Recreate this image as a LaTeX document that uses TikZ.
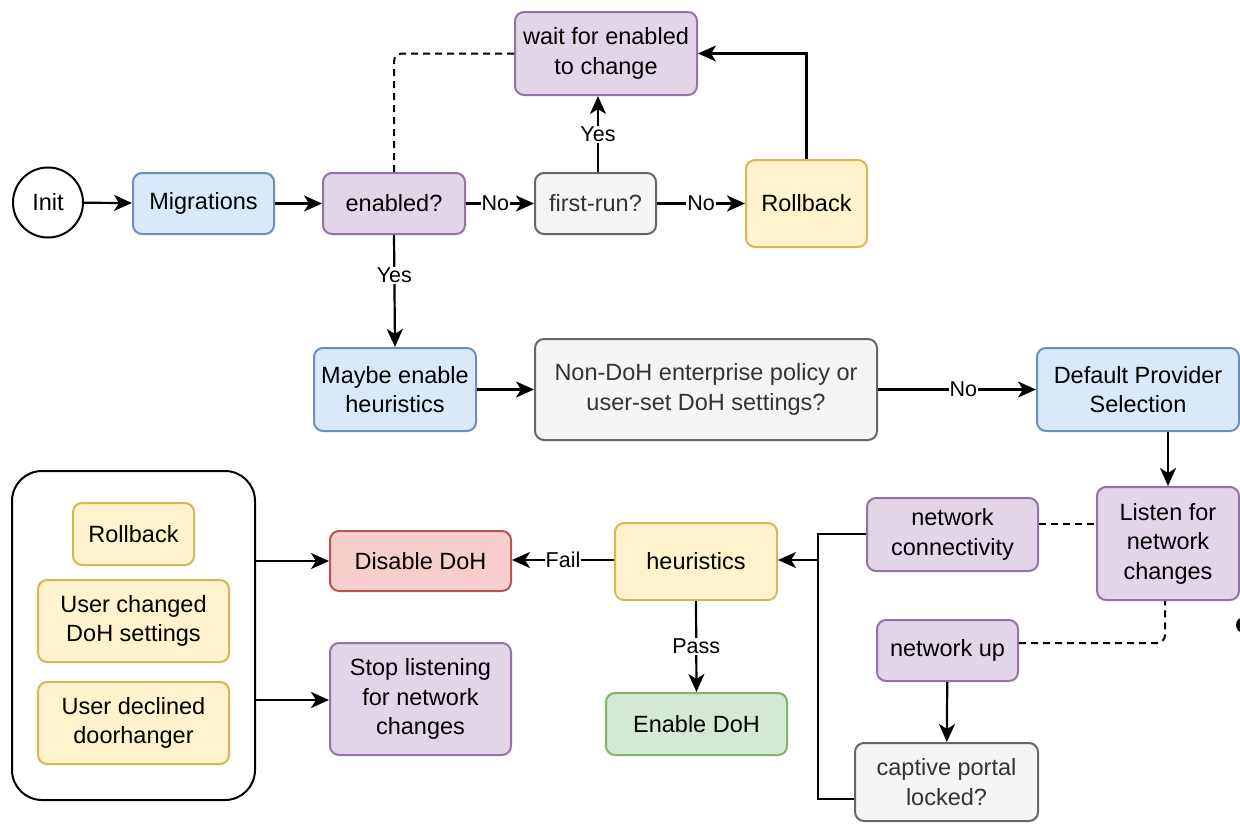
\documentclass[tikz,border=0pt]{standalone}
\usepackage{fontspec}
\setmainfont{Liberation Sans}
\usetikzlibrary{arrows.meta}

\definecolor{blueF}{HTML}{DAE8FC}\definecolor{blueD}{HTML}{6C8EBF}
\definecolor{purpleF}{HTML}{E1D5E7}\definecolor{purpleD}{HTML}{9673A6}
\definecolor{grayF}{HTML}{F5F5F5}\definecolor{grayD}{HTML}{666666}\definecolor{grayT}{HTML}{333333}
\definecolor{yellowF}{HTML}{FFF2CC}\definecolor{yellowD}{HTML}{D6B656}
\definecolor{redF}{HTML}{F8CECC}\definecolor{redD}{HTML}{B85450}
\definecolor{greenF}{HTML}{D5E8D4}\definecolor{greenD}{HTML}{82B366}

\tikzset{
  box/.style={rectangle, rounded corners=9pt, line width=2pt, align=center,
    inner sep=2pt, font=\fontsize{23.5}{29.5}\selectfont},
  bluebox/.style={box, fill=blueF, draw=blueD},
  purplebox/.style={box, fill=purpleF, draw=purpleD},
  graybox/.style={box, fill=grayF, draw=grayD, text=grayT},
  yellowbox/.style={box, fill=yellowF, draw=yellowD},
  redbox/.style={box, fill=redF, draw=redD},
  greenbox/.style={box, fill=greenF, draw=greenD},
  conn/.style={line width=2.2pt, -{Stealth[length=18pt,width=16pt,inset=5pt]}},
  plain/.style={line width=2.2pt},
  dashconn/.style={line width=2pt, dash pattern=on 7pt off 5pt},
  lbl/.style={fill=white, inner sep=1pt, font=\fontsize{21.5}{25}\selectfont}
}

\begin{document}
\begin{tikzpicture}[x=1pt,y=-1pt]
\useasboundingbox (0,0) rectangle (1240,823);

% top row
\node[circle, draw, line width=2pt, minimum size=70pt, inner sep=0pt,
      font=\fontsize{23.5}{29.5}\selectfont] (init) at (48,202.5) {Init};
\node[bluebox, minimum width=141pt, minimum height=61pt] (migr) at (203.5,203.5) {Migrations};
\node[purplebox, minimum width=142pt, minimum height=61pt] (enabled) at (394,203.5) {enabled?};
\node[graybox, minimum width=121pt, minimum height=61pt] (firstrun) at (595.5,203.5) {first-run?};
\node[yellowbox, minimum width=121pt, minimum height=87pt] (rollback) at (806.5,203.5) {Rollback};
\node[purplebox, minimum width=182pt, minimum height=83pt] (wait) at (606,53.5) {wait for enabled\\to change};

% middle row
\node[bluebox, minimum width=162pt, minimum height=83pt] (maybe) at (395,389.5) {Maybe enable\\heuristics};
\node[graybox, minimum width=342pt, minimum height=101pt] (policy) at (706,389.5) {Non-DoH enterprise policy or\\user-set DoH settings?};
\node[bluebox, minimum width=202pt, minimum height=83pt] (provider) at (1138,389.5) {Default Provider\\Selection};

% network listeners
\node[purplebox, minimum width=142pt, minimum height=113pt] (listen) at (1168,543.5) {Listen for\\network\\changes};
\node[purplebox, minimum width=171pt, minimum height=73pt] (connect) at (952.5,534.5) {network\\connectivity};
\node[purplebox, minimum width=141pt, minimum height=61pt] (netup) at (947.5,650.5) {network up};
\node[graybox, minimum width=183pt, minimum height=78pt] (captive) at (946.5,782) {captive portal\\locked?};

% heuristics and outcomes
\node[yellowbox, minimum width=162pt, minimum height=77pt] (heur) at (696,561.5) {heuristics};
\node[redbox, minimum width=181pt, minimum height=60pt] (disable) at (420.5,561) {Disable DoH};
\node[greenbox, minimum width=181pt, minimum height=62pt] (enable) at (696.5,724) {Enable DoH};
\node[purplebox, minimum width=181pt, minimum height=112pt] (stop) at (420.5,699) {Stop listening\\for network\\changes};

% group of disabling reasons
\node[rectangle, rounded corners=30pt, draw, line width=2pt, fill=white,
      minimum width=243pt, minimum height=329pt] (reasons) at (133.5,635.5) {};
\node[yellowbox, minimum width=121pt, minimum height=62pt] (rb2) at (133.5,534) {Rollback};
\node[yellowbox, minimum width=191pt, minimum height=82pt] (userset) at (133.5,621) {User changed\\DoH settings};
\node[yellowbox, minimum width=191pt, minimum height=82pt] (declined) at (133.5,723) {User declined\\doorhanger};

% connectors
\draw[conn] (init) -- (migr);
\draw[conn] (migr) -- (enabled);
\draw[conn] (enabled) -- node[lbl, pos=0.43] {No} (firstrun);
\draw[conn] (firstrun) -- node[lbl] {No} (rollback);
\draw[conn] (firstrun.north -| 598,0) -- node[lbl] {Yes} (wait.south -| 598,0);
\draw[conn] (rollback.north) |- (wait.east);
\draw[dashconn, rounded corners=8pt] (enabled.north) |- (wait.west);
\draw[conn] (enabled.south) -- node[lbl, pos=0.36] {Yes} (maybe.north);
\draw[conn] (maybe) -- (policy);
\draw[conn] (policy) -- node[lbl, pos=0.54] {No} (provider);
\draw[conn] (provider.south -| listen.north) -- (listen.north);
\draw[dashconn] (connect.east |- 0,524) -- (listen.west |- 0,524);
\draw[dashconn, rounded corners=8pt] (netup.east |- 0,643) -| (listen.south -| 1165,0);
\draw[conn] (netup) -- (captive);
\draw[plain] (connect.west |- 0,534) -| (818,560);
\draw[conn] (captive.west |- 0,799) -| (818,560) -- (heur.east |- 0,560);
\draw[conn] (heur.west |- 0,560) -- node[lbl] {Fail} (disable.east |- 0,560);
\draw[conn] (heur.south) -- node[lbl] {Pass} (enable.north);
\draw[conn] (reasons.east |- 0,561) -- (disable.west |- 0,561);
\draw[conn] (reasons.east |- 0,700) -- (stop.west |- 0,700);

% small dot on the right margin
\fill (1244,625) circle (8pt);
\end{tikzpicture}
\end{document}
